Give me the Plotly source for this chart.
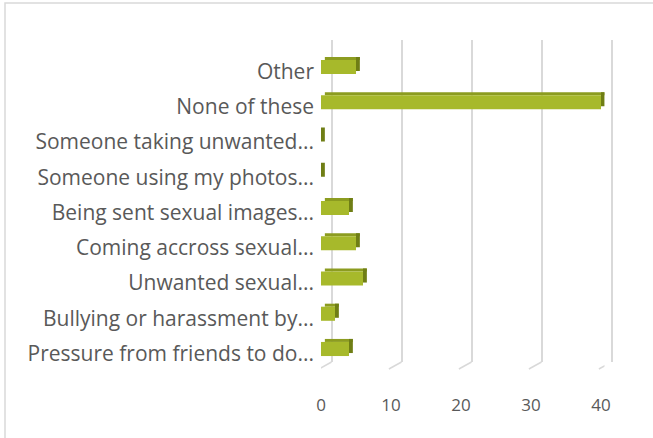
import plotly.graph_objects as go

categories = [
    "Pressure from friends to do...",
    "Bullying or harassment by...",
    "Unwanted sexual...",
    "Coming accross sexual...",
    "Being sent sexual images...",
    "Someone using my photos...",
    "Someone taking unwanted...",
    "None of these",
    "Other",
]
values = [4, 2, 6, 5, 4, 0, 0, 40, 5]
tick_values = [0, 10, 20, 30, 40]

FRONT = "#A7B92B"
SIDE = "#6F7E15"
TOP = "#8C9C20"
GRID = "#D9D9D9"
TEXT = "#595959"

W, H = 653, 438
L, R, T, B = 321, 38, 40, 69
pw = W - L - R
ph = H - T - B
px_per_unit = 7.0
cat_px = 35.25
depth_px_x, depth_px_y = 10.5, 7.0
bar_w = 0.4
dx = 0.55               # side-face depth in data units
dy = 3.0 / cat_px       # top-face depth in category units
lift = 4.5 / cat_px     # bars sit slightly above their label centre

main_frac = 1 - depth_px_x / pw
xmax = main_frac * pw / px_per_unit

fig = go.Figure()
# back-wall grid subplot (drawn first, so it stays behind the bars)
fig.add_trace(go.Scatter(x=[None], y=[None], xaxis="x", yaxis="y",
                         showlegend=False, hoverinfo="skip"))
# top faces
fig.add_trace(go.Bar(
    y=categories, x=values, base=[dx] * len(values), orientation="h",
    xaxis="x2", yaxis="y2",
    width=dy, offset=bar_w / 2 + lift, marker=dict(color=TOP, line=dict(width=0)),
    hoverinfo="skip", showlegend=False))
# side faces
fig.add_trace(go.Bar(
    y=categories, x=[dx] * len(values), base=values, orientation="h",
    xaxis="x2", yaxis="y2",
    width=bar_w, offset=-bar_w / 2 + dy + lift, marker=dict(color=SIDE, line=dict(width=0)),
    hoverinfo="skip", showlegend=False))
# front faces
fig.add_trace(go.Bar(
    y=categories, x=values, orientation="h",
    xaxis="x2", yaxis="y2",
    width=bar_w, offset=-bar_w / 2 + lift, marker=dict(color=FRONT, line=dict(width=0)),
    showlegend=False))

floor_frac = depth_px_y / ph
shapes = []
for v in tick_values:
    shapes.append(dict(type="line", xref="x2", yref="paper",
                       x0=v + depth_px_x / px_per_unit, y0=floor_frac,
                       x1=v - 0.3, y1=0, line=dict(color=GRID, width=1.5)))
# chart-area border
shapes.append(dict(type="rect", xref="paper", yref="paper",
                   x0=(5 - L) / pw, y0=-0.5, x1=2, y1=(H - B - 3) / ph,
                   line=dict(color=GRID, width=1.5), layer="below"))

fig.update_layout(
    width=W, height=H,
    margin=dict(l=L, r=R, t=T, b=B),
    paper_bgcolor="white", plot_bgcolor="rgba(0,0,0,0)",
    barmode="overlay",
    font=dict(family="Open Sans", color=TEXT),
    xaxis=dict(domain=[depth_px_x / pw, 1], range=[0, xmax], anchor="y",
               showgrid=True, gridcolor=GRID, gridwidth=1.5,
               zeroline=True, zerolinecolor=GRID, zerolinewidth=1.5,
               tickvals=tick_values, showticklabels=False, showline=False),
    yaxis=dict(domain=[floor_frac, 1], range=[0, 1], anchor="x",
               showgrid=False, zeroline=False, showticklabels=False, showline=False),
    xaxis2=dict(domain=[0, main_frac], range=[0, xmax], anchor="y2",
                showgrid=False, zeroline=False, showline=False,
                tickvals=tick_values, ticks="", ticklabelstandoff=24,
                tickfont=dict(size=17, color=TEXT)),
    yaxis2=dict(domain=[0, 1], anchor="x2",
                type="category", categoryorder="array", categoryarray=categories,
                range=[-0.44, 8.894], showgrid=False, zeroline=False,
                ticks="", ticklabelstandoff=6, tickfont=dict(size=21, color=TEXT)),
    shapes=shapes,
)

fig.write_html("out.html", config={"displayModeBar": False},
               post_script="document.body.style.margin='0';")
